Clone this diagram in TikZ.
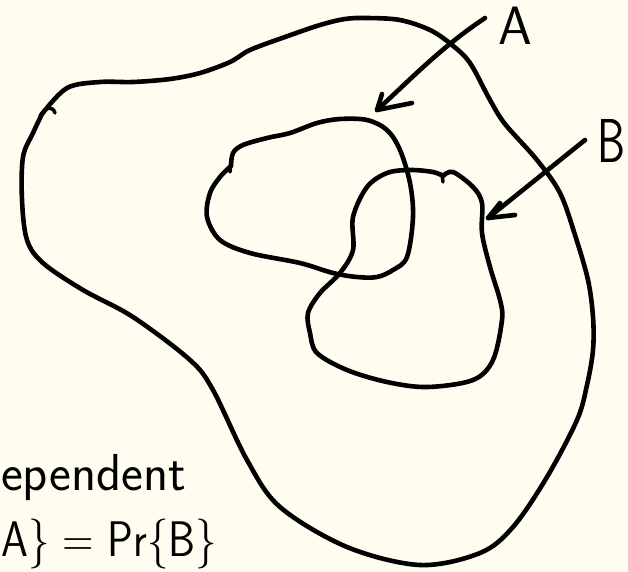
\documentclass[tikz,border=0pt]{standalone}
\usepackage{fontspec}
\begin{document}
\begin{tikzpicture}[x=1pt,y=-1pt,
  ink/.style={line width=4.6pt,line cap=round,line join=round,black},
  hand/.style={font=\sffamily\fontsize{52}{60}\selectfont,inner sep=0pt}]
\useasboundingbox (0,0) rectangle (628,571);
\fill[fill={rgb,255:red,254;green,253;blue,240}] (0,0) rectangle (628,571);
% outer region
\draw[ink] plot[smooth,tension=0.55] coordinates{
 (42,114) (67,88) (100,82) (133,82) (170,79) (200,73) (230,62) (250,50) (285,37)
 (320,25) (345,19) (367,18) (400,20) (430,30) (452,45) (470,63) (490,100) (505,124)
 (537,160) (560,193) (575,235) (588,280) (593,317) (593,350) (587,385) (577,420)
 (547,477) (513,527) (480,553) (420,565) (347,547) (280,507) (247,460) (213,390)
 (190,360) (133,317) (83,290) (43,263) (27,240) (22,200) (23,157) (33,133) (42,114)};
\draw[ink,line width=3.5pt] (40,116) .. controls (46,106) and (53,106) .. (55,113);
% inner A
\draw[ink] plot[smooth,tension=0.55] coordinates{
 (231,166) (233,153) (243,145) (267,138) (290,133) (317,123) (340,119) (367,120)
 (387,130) (400,150) (410,183) (413,217) (407,257) (393,270) (377,277) (357,277)
 (333,273) (300,263) (250,253) (220,240) (207,217) (210,193) (220,177) (231,166)};
\draw[ink,line width=3.5pt] (231,160) -- (230,172);
% inner B
\draw[ink] plot[smooth,tension=0.55] coordinates{
 (443,176) (453,172) (473,187) (482,203) (482,233) (490,267) (500,300) (502,320)
 (493,360) (473,380) (427,387) (387,382) (347,370) (317,353) (310,333) (308,313)
 (320,293) (340,273) (353,250) (353,217) (367,187) (387,173) (410,170) (433,172) (443,176)};
\draw[ink,line width=3.5pt] (442,174) -- (443,182);
% labels
\node[hand,font=\sffamily\fontsize{54}{60}\selectfont] (A) at (515,26) {A};
\node[hand,font=\sffamily\fontsize{62}{70}\selectfont,xscale=0.72] (B) at (611,141) {B};
\coordinate (atail) at (485,18);
\coordinate (atip) at (377,110);
\coordinate (btail) at (585,140);
\coordinate (btip) at (488,218);
\draw[ink] (atail) .. controls (440,48) and (410,80) .. (atip);
\draw[ink] (382,94) -- (atip) -- (412,103);
\draw[ink] (btail) -- (btip);
\draw[ink] (500,203) -- (btip) -- (515,215);
% bottom-left text (as cropped in the sketch)
\node[hand,anchor=base west] (t1) at (1,490) {ependent};
\node[hand,font=\sffamily\fontsize{50}{60}\selectfont,anchor=base west,xscale=0.86] (t2) at (1,556) {A\} = Pr\{B\}};
\end{tikzpicture}
\end{document}
